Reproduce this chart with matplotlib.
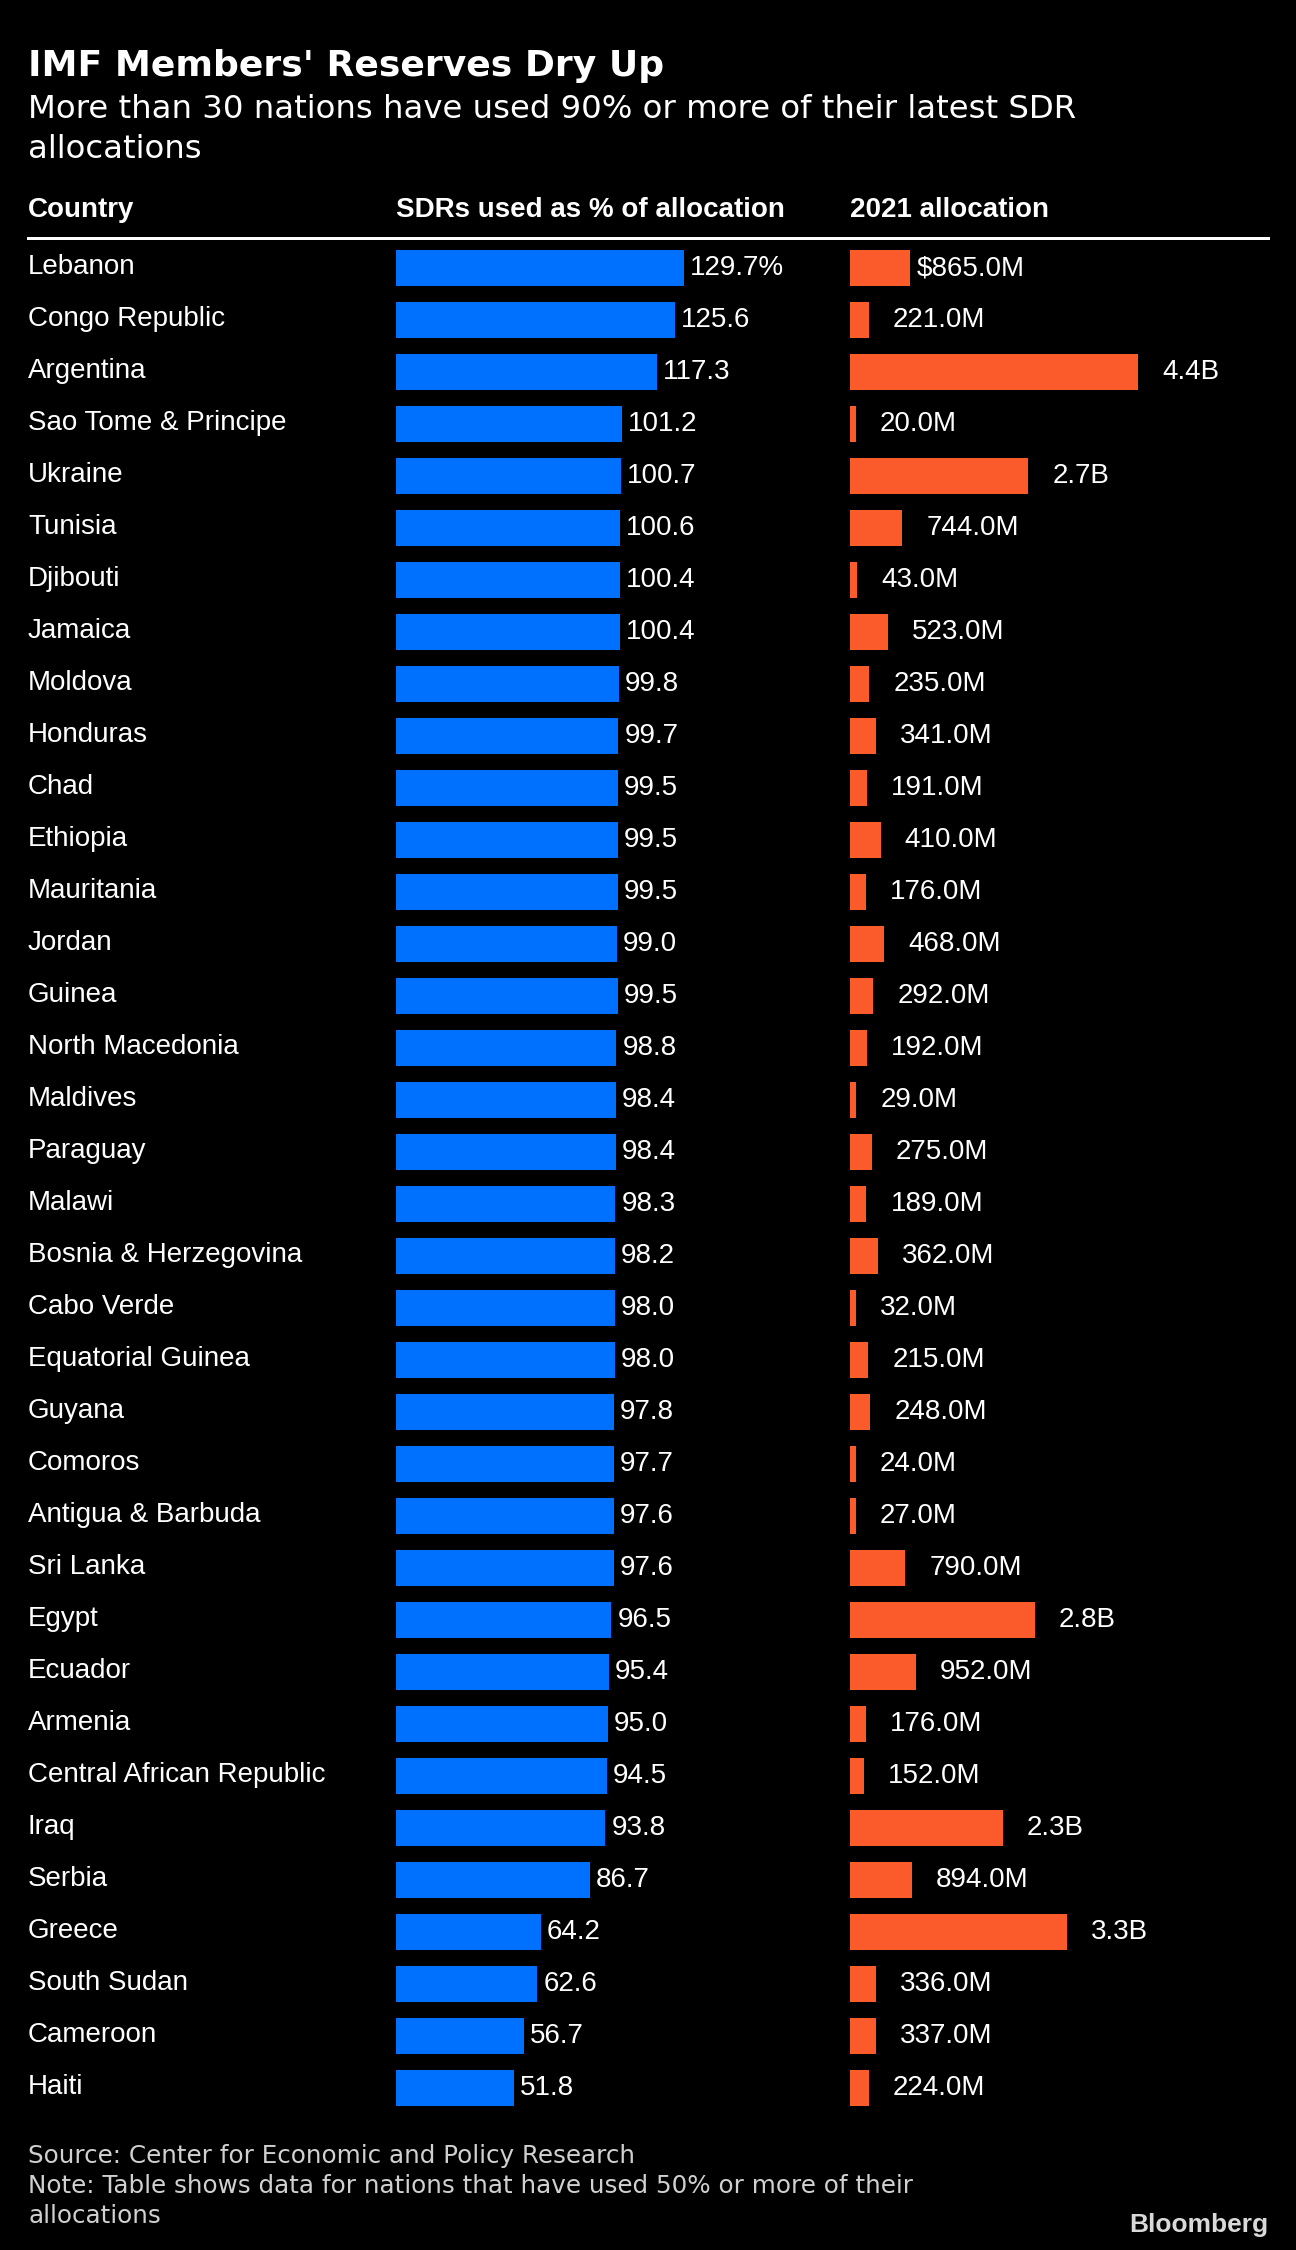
import matplotlib
matplotlib.use('Agg')
import matplotlib.pyplot as plt
from matplotlib.lines import Line2D

W, H = 1296, 2250

countries = ['Lebanon', 'Congo Republic', 'Argentina', 'Sao Tome & Principe', 'Ukraine',
             'Tunisia', 'Djibouti', 'Jamaica', 'Moldova', 'Honduras', 'Chad', 'Ethiopia',
             'Mauritania', 'Jordan', 'Guinea', 'North Macedonia', 'Maldives', 'Paraguay',
             'Malawi', 'Bosnia & Herzegovina', 'Cabo Verde', 'Equatorial Guinea', 'Guyana',
             'Comoros', 'Antigua & Barbuda', 'Sri Lanka', 'Egypt', 'Ecuador', 'Armenia',
             'Central African Republic', 'Iraq', 'Serbia', 'Greece', 'South Sudan',
             'Cameroon', 'Haiti']
sdr_used_pct = [129.7, 125.6, 117.3, 101.2, 100.7, 100.6, 100.4, 100.4, 99.8, 99.7, 99.5,
                99.5, 99.5, 99.0, 99.5, 98.8, 98.4, 98.4, 98.3, 98.2, 98.0, 98.0, 97.8,
                97.7, 97.6, 97.6, 96.5, 95.4, 95.0, 94.5, 93.8, 86.7, 64.2, 62.6, 56.7, 51.8]
# 2021 allocation, millions of dollars
allocation_m = [865, 221, 4400, 20, 2700, 744, 43, 523, 235, 341, 191, 410, 176, 468, 292,
                192, 29, 275, 189, 362, 32, 215, 248, 24, 27, 790, 2800, 952, 176, 152,
                2300, 894, 3300, 336, 337, 224]

BLUE = '#0071ff'
ORANGE = '#fb5b2b'
TABLE_FONT = 'Liberation Sans'
PX = 0.72  # pixels -> points at dpi 100
COL_W = 288  # bar column width in px
MIN_BAR = 4.3  # every bar gets a small stub so tiny values stay visible


def fx(x):
    return x / W


def fy(y):
    return 1 - y / H


def fmt_alloc(v):
    if v >= 1000:
        return f'{v / 1000:.1f}B'
    return f'{v:.1f}M'


fig = plt.figure(figsize=(W / 100, H / 100), dpi=100, facecolor='black')

n = len(countries)
row_top, row_bottom = 242, 242 + 52 * n

# bar columns
ax1 = fig.add_axes([fx(396), fy(row_bottom), COL_W / W, (row_bottom - row_top) / H])
ax2 = fig.add_axes([fx(850), fy(row_bottom), COL_W / W, (row_bottom - row_top) / H])
for ax in (ax1, ax2):
    ax.set_facecolor('none')
    ax.set_ylim(n - 0.5, -0.5)
    ax.axis('off')

pad1 = max(sdr_used_pct) * MIN_BAR / (COL_W - MIN_BAR)
pad2 = max(allocation_m) * MIN_BAR / (COL_W - MIN_BAR)
ax1.set_xlim(-pad1, max(sdr_used_pct))
ax2.set_xlim(-pad2, max(allocation_m))

rows = list(range(n))
ax1.barh(rows, [v + pad1 for v in sdr_used_pct], left=-pad1, height=36 / 52, color=BLUE)
ax2.barh(rows, [v + pad2 for v in allocation_m], left=-pad2, height=36 / 52, color=ORANGE)

for i in rows:
    ax1.annotate(countries[i], xy=(fx(28), i), xycoords=('figure fraction', 'data'),
                 xytext=(0, -6 * PX), textcoords='offset points', va='baseline',
                 ha='left', color='white', fontsize=20, family=TABLE_FONT)
    lbl = f'{sdr_used_pct[i]:.1f}' + ('%' if i == 0 else '')
    ax1.annotate(lbl, xy=(sdr_used_pct[i], i), xytext=(6 * PX, -7 * PX),
                 textcoords='offset points', va='baseline', ha='left', color='white',
                 fontsize=20, family=TABLE_FONT, annotation_clip=False)
    albl = ('$' if i == 0 else '') + fmt_alloc(allocation_m[i])
    off = 7 if i == 0 else 24
    ax2.annotate(albl, xy=(allocation_m[i], i), xytext=(off * PX, -7 * PX),
                 textcoords='offset points', va='baseline', ha='left', color='white',
                 fontsize=20, family=TABLE_FONT, annotation_clip=False)

# headers
fig.text(fx(28), fy(76), "IMF Members' Reserves Dry Up", color='white', fontsize=26,
         fontweight='bold', family='DejaVu Sans', va='baseline')
fig.text(fx(28), fy(118), 'More than 30 nations have used 90% or more of their latest SDR',
         color='white', fontsize=23.3, family='DejaVu Sans', va='baseline')
fig.text(fx(28), fy(158), 'allocations', color='white', fontsize=23.3,
         family='DejaVu Sans', va='baseline')

for x, s in [(28, 'Country'), (396, 'SDRs used as % of allocation'), (850, '2021 allocation')]:
    fig.text(fx(x), fy(217), s, color='white', fontsize=20, fontweight='bold',
             family=TABLE_FONT, va='baseline')
fig.add_artist(Line2D([fx(28), fx(1268)], [fy(238), fy(238)], color='white', lw=3 * PX))

# footer
foot = ['Source: Center for Economic and Policy Research',
        'Note: Table shows data for nations that have used 50% or more of their',
        'allocations']
for k, s in enumerate(foot):
    fig.text(fx(28), fy(2163 + 30 * k), s, color='#d0d0d0', fontsize=17.7,
             family='DejaVu Sans', va='baseline')
fig.text(fx(1268), fy(2232), 'Bloomberg', color='#d9d9d9', fontsize=19, fontweight='bold',
         family=TABLE_FONT, va='baseline', ha='right')

fig.savefig('out.png', dpi=100, facecolor='black')
